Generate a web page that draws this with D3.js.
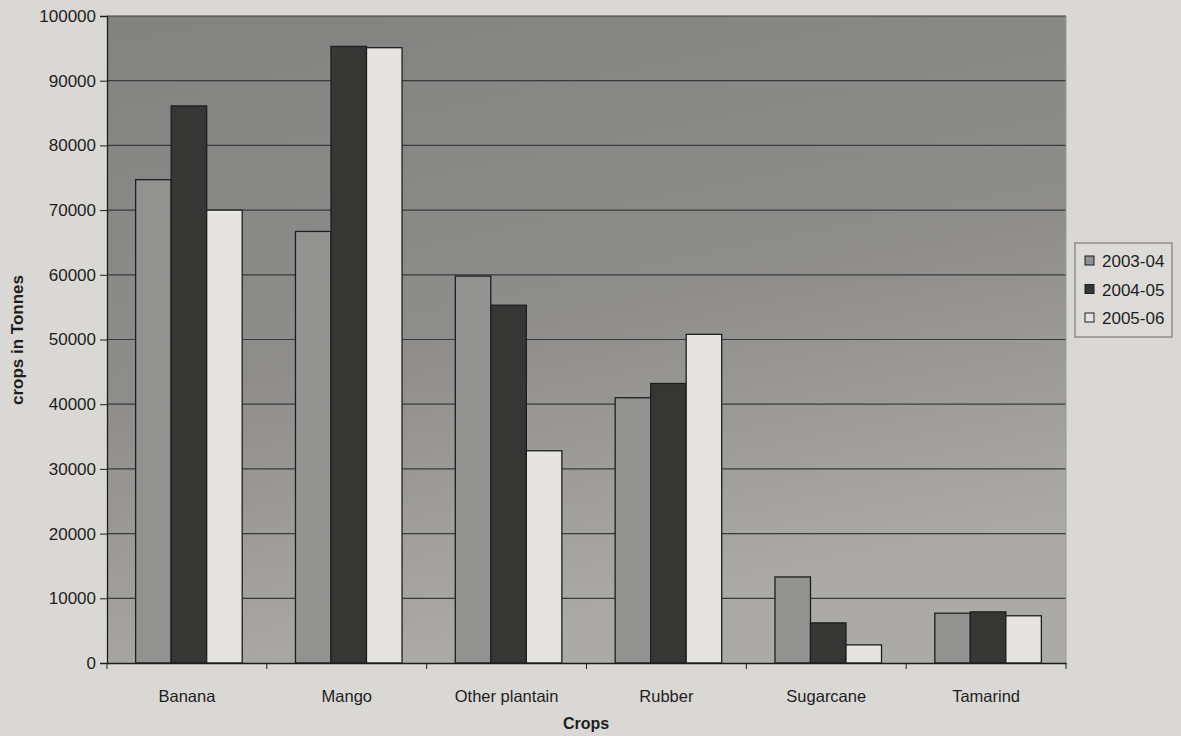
<!DOCTYPE html>
<html>
<head>
<meta charset="utf-8">
<script src="https://cdn.jsdelivr.net/npm/d3@7"></script>
<style>
  body { margin: 0; background: #dad8d4; }
  text { font-family: "Liberation Sans", Arial, sans-serif; fill: #1e1e1e; }
</style>
</head>
<body>
<div id="container"></div>
<script>
// Chart data
var crops = ["Banana", "Mango", "Other plantain", "Rubber", "Sugarcane", "Tamarind"];
var years = ["2003-04", "2004-05", "2005-06"];
var y2003 = [74700, 66700, 59800, 41000, 13300, 7700];
var y2004 = [86100, 95300, 55300, 43200, 6200, 7900];
var y2005 = [70000, 95100, 32800, 50800, 2800, 7300];
var yTicks = [0, 10000, 20000, 30000, 40000, 50000, 60000, 70000, 80000, 90000, 100000];

var series = [y2003, y2004, y2005];
var colors = ["#929290", "#363634", "#e6e4e0"];

var width = 1181,
    height = 736;
var margin = { top: 16, right: 115, bottom: 73, left: 107 };
var plotW = width - margin.left - margin.right,
    plotH = height - margin.top - margin.bottom;

var svg = d3.select("#container")
    .append("svg")
    .attr("width", width)
    .attr("height", height);

// grey gradient like the scanned plot area
var defs = svg.append("defs");
var grad = defs.append("linearGradient")
    .attr("id", "bg")
    .attr("x1", "0").attr("y1", "0")
    .attr("x2", "0.3").attr("y2", "1");
grad.append("stop").attr("offset", "0%").attr("stop-color", "#828280");
grad.append("stop").attr("offset", "55%").attr("stop-color", "#8e8d8b");
grad.append("stop").attr("offset", "100%").attr("stop-color", "#abaaa7");

var g = svg.append("g")
    .attr("transform", "translate(" + margin.left + "," + margin.top + ")");

var x0 = d3.scaleBand()
    .domain(crops)
    .range([0, plotW]);
var x1 = d3.scaleBand()
    .domain(d3.range(years.length))
    .range([2, x0.bandwidth() + 2])
    .paddingInner(0)
    .paddingOuter(0.75);
var y = d3.scaleLinear()
    .domain([0, 100000])
    .range([plotH, 0]);

// plot area
g.append("rect")
    .attr("width", plotW)
    .attr("height", plotH)
    .attr("fill", "url(#bg)");

// gridlines
g.selectAll(".grid")
    .data(yTicks.filter(function(d) { return d > 0; }))
    .enter()
    .append("line")
    .attr("x1", 0)
    .attr("x2", plotW)
    .attr("y1", function(d) { return y(d); })
    .attr("y2", function(d) { return y(d); })
    .attr("stroke", "#3a3a3a")
    .attr("stroke-width", 1.2);

// right border of plot
g.append("line")
    .attr("x1", plotW).attr("x2", plotW)
    .attr("y1", 0).attr("y2", plotH)
    .attr("stroke", "#9a9a98");

// bars
var groups = g.selectAll(".crop")
    .data(crops)
    .enter()
    .append("g")
    .attr("transform", function(d) { return "translate(" + x0(d) + ",0)"; });

groups.selectAll("rect")
    .data(function(d, i) { return series.map(function(s, k) { return { k: k, v: s[i] }; }); })
    .enter()
    .append("rect")
    .attr("x", function(d) { return x1(d.k); })
    .attr("y", function(d) { return y(d.v); })
    .attr("width", x1.bandwidth())
    .attr("height", function(d) { return plotH - y(d.v); })
    .attr("fill", function(d) { return colors[d.k]; })
    .attr("stroke", "#1e1e1e")
    .attr("stroke-width", 1.3);

// y axis
var yAxis = g.append("g")
    .call(d3.axisLeft(y).tickValues(yTicks).tickSize(7).tickPadding(4).tickFormat(d3.format("d")));
yAxis.select(".domain").attr("stroke", "#1e1e1e").attr("stroke-width", 1.3);
yAxis.selectAll("line").attr("stroke", "#1e1e1e");
yAxis.selectAll("text")
    .style("font-size", "17px")
    .style("font-family", "Liberation Sans, Arial, sans-serif")
    .attr("fill", "#1e1e1e");

// x axis
var xAxis = g.append("g")
    .attr("transform", "translate(0," + plotH + ")")
    .call(d3.axisBottom(x0).tickSize(0).tickPadding(27));
xAxis.select(".domain").attr("stroke", "#1e1e1e").attr("stroke-width", 1.3);
xAxis.selectAll("text")
    .style("font-size", "16.5px")
    .style("font-family", "Liberation Sans, Arial, sans-serif")
    .attr("fill", "#1e1e1e");
// category separators
xAxis.selectAll(".sep")
    .data(d3.range(crops.length + 1))
    .enter()
    .append("line")
    .attr("x1", function(d) { return d * x0.step(); })
    .attr("x2", function(d) { return d * x0.step(); })
    .attr("y1", 0)
    .attr("y2", 6)
    .attr("stroke", "#1e1e1e");

// axis titles
svg.append("text")
    .attr("transform", "translate(23,340) rotate(-90)")
    .attr("text-anchor", "middle")
    .style("font-size", "17px")
    .style("font-weight", "bold")
    .text("crops in Tonnes");

svg.append("text")
    .attr("x", 586)
    .attr("y", 729)
    .attr("text-anchor", "middle")
    .style("font-size", "16px")
    .style("font-weight", "bold")
    .text("Crops");

// legend
var legend = svg.append("g")
    .attr("transform", "translate(1075,243)");
legend.append("rect")
    .attr("width", 97)
    .attr("height", 94)
    .attr("fill", "#dddbd7")
    .attr("stroke", "#6a6a6a");
var items = legend.selectAll(".item")
    .data(years)
    .enter()
    .append("g")
    .attr("transform", function(d, i) { return "translate(10," + (18 + i * 28.5) + ")"; });
items.append("rect")
    .attr("y", -5)
    .attr("width", 9)
    .attr("height", 9)
    .attr("fill", function(d, i) { return colors[i]; })
    .attr("stroke", "#1e1e1e");
items.append("text")
    .attr("x", 17)
    .attr("y", 6)
    .style("font-size", "17px")
    .text(function(d) { return d; });
</script>
</body>
</html>
